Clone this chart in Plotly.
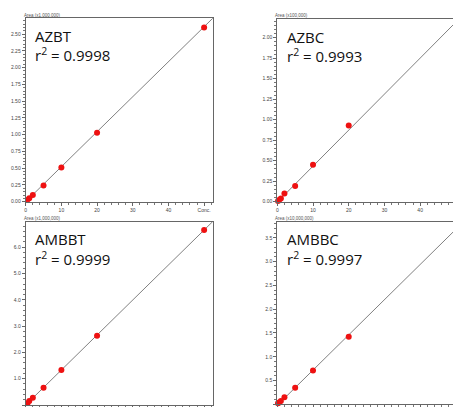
import plotly.graph_objects as go

W, H = 453, 407

conc = [0.2, 0.5, 1, 2, 5, 10, 20, 50]
azbt = [0.01, 0.025, 0.05, 0.10, 0.24, 0.51, 1.03, 2.60]
azbc = [0.01, 0.02, 0.04, 0.10, 0.19, 0.45, 0.93, 2.17]
ambbt = [0.03, 0.07, 0.15, 0.28, 0.66, 1.33, 2.63, 6.65]
ambbc = [0.02, 0.04, 0.07, 0.15, 0.35, 0.71, 1.42, 3.62]

names = ["AZBT", "AZBC", "AMBBT", "AMBBC"]
r2 = ["0.9998", "0.9993", "0.9999", "0.9997"]
area_titles = ["Area (x1,000,000)", "Area (x100,000)", "Area (x1,000,000)", "Area (x10,000,000)"]
slopes = [0.0522, 0.0439, 0.1331, 0.0740]
intercepts = [0.0, -0.005, 0.0, -0.02]
fit_x = [0, 60]
x_ticks = [0, 10, 20, 30, 40, 50]
x_ticktext = ["0", "10", "20", "30", "40", "Conc."]

series = [azbt, azbc, ambbt, ambbc]

# layout geometry (pixels)
panels = [
    dict(x0=25.7, x1=212.7, y0=18.0, y1=201.7, xr=52.4, yr=2.74, dy=0.25, mdy=0.05, fmt=".2f"),
    dict(x0=277.3, x1=453.0, y0=19.0, y1=201.7, xr=49.2, yr=2.228, dy=0.25, mdy=0.05, fmt=".2f"),
    dict(x0=25.7, x1=212.7, y0=221.7, y1=405.0, xr=52.4, yr=6.97, dy=1.0, mdy=0.2, fmt=".1f"),
    dict(x0=277.3, x1=453.0, y0=221.7, y1=404.3, xr=49.2, yr=3.84, dy=0.5, mdy=0.1, fmt=".1f"),
]

fig = go.Figure()
tickfont = dict(family="Liberation Sans", size=5, color="#444")
annotations = []

for i, p in enumerate(panels):
    k = "" if i == 0 else str(i + 1)
    xa, ya = "x" + k, "y" + k
    fy = [slopes[i] * x + intercepts[i] for x in fit_x]
    fig.add_trace(go.Scatter(x=fit_x, y=fy, mode="lines", xaxis=xa, yaxis=ya,
                             line=dict(color="#808080", width=1), showlegend=False,
                             hoverinfo="skip"))
    fig.add_trace(go.Scatter(x=conc, y=series[i], mode="markers", xaxis=xa, yaxis=ya,
                             marker=dict(color="#ee1111", size=6, line=dict(width=0)),
                             cliponaxis=(i in (0, 2)), showlegend=False))
    common = dict(showline=True, mirror=True, linecolor="#666", linewidth=1,
                  showgrid=False, zeroline=False, ticks="outside", ticklen=3,
                  tickcolor="#666", tickwidth=1, tickfont=tickfont, automargin=False)
    fig.layout["xaxis" + k] = dict(
        domain=[p["x0"] / W, min(p["x1"] / W, 1.0)], range=[0, p["xr"]],
        anchor=ya, tickmode="array", tickvals=x_ticks, ticktext=x_ticktext,
        minor=dict(dtick=2, tick0=0, ticks="outside", ticklen=2, tickcolor="#777"),
        **common)
    fig.layout["yaxis" + k] = dict(
        domain=[1 - p["y1"] / H, 1 - p["y0"] / H], range=[0, p["yr"]],
        anchor=xa, dtick=p["dy"], tick0=0, tickformat=p["fmt"],
        minor=dict(dtick=p["mdy"], tick0=0, ticks="outside", ticklen=2, tickcolor="#777"),
        **common)
    # axis title at top
    annotations.append(dict(xref="paper", yref="paper", x=(p["x0"] - 4) / W,
                            y=1 - (p["y0"] - 3) / H, text=area_titles[i], showarrow=False,
                            xanchor="left", yanchor="middle",
                            font=dict(family="Liberation Sans", size=4.5, color="#555")))
    # compound name & r2
    annotations.append(dict(xref="paper", yref="paper", x=(p["x0"] + 7.5) / W,
                            y=1 - (p["y0"] + 17.5) / H, text=names[i], showarrow=False,
                            xanchor="left", yanchor="middle",
                            font=dict(family="Open Sans", size=15, color="#111")))
    annotations.append(dict(xref="paper", yref="paper", x=(p["x0"] + 7.5) / W,
                            y=1 - (p["y0"] + 36.5) / H,
                            text="r<sup>2</sup> = " + r2[i], showarrow=False,
                            xanchor="left", yanchor="middle",
                            font=dict(family="Open Sans", size=15, color="#111")))
    if i in (1, 3):
        annotations.append(dict(xref=xa, yref="paper", x=50, y=1 - (p["y1"] + 6) / H,
                                text="Conc.", showarrow=False, xanchor="center",
                                yanchor="middle", font=tickfont))

fig.update_layout(width=W, height=H, margin=dict(l=0, r=0, t=0, b=0, autoexpand=False),
                  paper_bgcolor="white", plot_bgcolor="white", hovermode=False,
                  annotations=annotations, showlegend=False)

fig.write_html("out.html", config={"displayModeBar": False},
               post_script="document.body.style.margin='0';document.body.style.padding='0';"
                           "document.body.style.overflow='hidden';")
